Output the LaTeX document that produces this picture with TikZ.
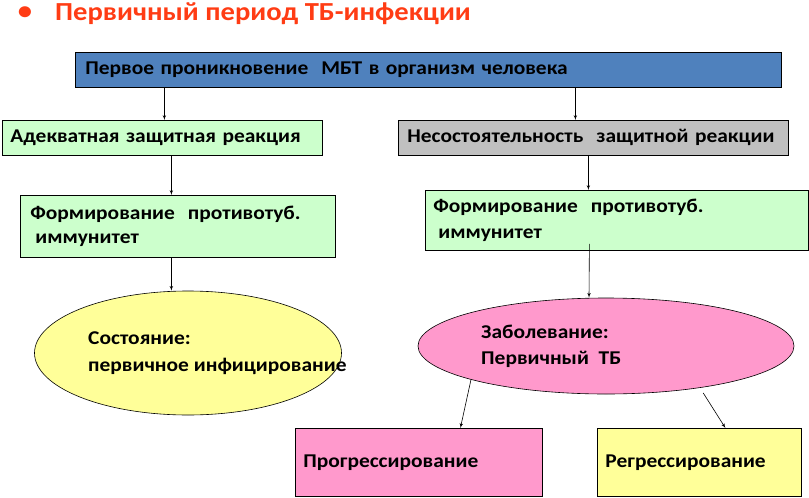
\documentclass[tikz,border=0pt]{standalone}
\usepackage{fontspec}
\setmainfont[FakeStretch=1.1]{Carlito}
\usetikzlibrary{arrows,shapes}
\definecolor{titlered}{RGB}{255,60,20}
\definecolor{topblue}{RGB}{79,129,189}
\definecolor{palegreen}{RGB}{204,255,204}
\definecolor{palegray}{RGB}{192,192,192}
\definecolor{paleyellow}{RGB}{255,255,153}
\definecolor{palepink}{RGB}{255,153,204}
\newcommand{\boxfont}{\bfseries\fontsize{19.5}{24}\selectfont}
\tikzstyle{stage}=[rectangle,draw=black,line width=0.8pt,anchor=north west,align=left,font=\boxfont]
\tikzstyle{state}=[ellipse,draw=black,line width=0.6pt,inner sep=0pt]
\tikzstyle{lbl}=[anchor=west,align=left,inner sep=0pt,font=\boxfont]
\tikzstyle{flow}=[line width=0.6pt,-latex']

\begin{document}
\begin{tikzpicture}[x=1pt,y=-1pt]
          \useasboundingbox (0,0) rectangle (809,498);

          \node[anchor=center,text=titlered,font=\bfseries\fontsize{26}{30}\selectfont] (dot) at (25,13) {•};
          \node[anchor=west,inner sep=0pt,text=titlered,font=\bfseries\fontsize{26}{30}\selectfont] (title) at (55,14) {Первичный период ТБ-инфекции};

          \node[stage,fill=topblue,text width=686pt,inner xsep=10pt,minimum height=35pt] (first) at (75,52) {Первое проникновение\ \ МБТ в организм человека};

          \node[stage,fill=palegreen,text width=304pt,inner xsep=8pt,minimum height=35pt] (adeq) at (2,120) {Адекватная защитная реакция};
          \path[flow] ([xshift=2pt]adeq.north |- first.south) edge ([xshift=2pt]adeq.north);

          \node[stage,fill=palegray,text width=372pt,inner xsep=9pt,minimum height=35pt] (fail) at (398,120) {Несостоятельность\ \ защитной реакции};
          \path[flow] ([xshift=-18pt]fail.north |- first.south) edge ([xshift=-18pt]fail.north);

          \node[stage,fill=palegreen,text width=295pt,inner xsep=10pt,minimum height=62pt] (immL) at (20,195) {Формирование\ \ противотуб.\\\hspace*{5pt}иммунитет};
          \path[flow] ([xshift=9pt]adeq.south) edge ([xshift=9pt]adeq.south |- immL.north);

          \node[stage,fill=palegreen,text width=367pt,inner xsep=8pt,minimum height=60pt,font=\bfseries\fontsize{19.5}{26}\selectfont] (immR) at (425,190) {Формирование\ \ противотуб.\\\hspace*{5pt}иммунитет};
          \path[flow] ([xshift=-5pt]fail.south) edge ([xshift=-5pt]fail.south |- immR.north);

          \node[state,fill=paleyellow,minimum width=307pt,minimum height=124pt] (sost) at (188,353) {};
          \node[lbl,font=\bfseries\fontsize{19.5}{27}\selectfont] (sostT) at (88,353) {Состояние:\\первичное инфицирование};
          \path[flow] ([xshift=-6.5pt]immL.south) edge ([xshift=-6.5pt]immL.south |- sost.north);

          \node[state,fill=palepink,minimum width=376pt,minimum height=96pt] (zab) at (606,346) {};
          \node[lbl,font=\bfseries\fontsize{19.5}{26}\selectfont] (zabT) at (481,346) {Заболевание:\\Первичный\ \ ТБ};
          \path[flow] ([xshift=-27.5pt,yshift=7pt]immR.south) edge ([xshift=-17pt]zab.north);

          \node[stage,fill=palepink,text width=231pt,inner xsep=8pt,minimum height=68pt] (prog) at (295,428) {Прогрессирование};
          \path[flow] (zab.-166) edge ([xshift=41.5pt]prog.north);

          \node[stage,fill=paleyellow,text width=188pt,inner xsep=8pt,minimum height=68pt] (regr) at (597,428) {Регрессирование};
          \path[flow,shorten <=6pt] (zab.-24) edge ([xshift=26pt]regr.north);
        \end{tikzpicture}
\end{document}
